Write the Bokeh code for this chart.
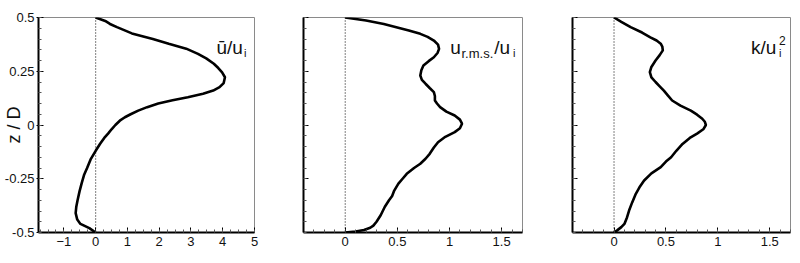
import math
from bokeh.plotting import figure
from bokeh.layouts import row
from bokeh.models import FixedTicker, Span, Label
from bokeh.embed import file_html
from bokeh.resources import INLINE

# ---------------- data ----------------
z_mean = [-0.5, -0.48, -0.46, -0.44, -0.41, -0.38, -0.35, -0.31, -0.27, -0.23, -0.2, -0.16,
          -0.12, -0.087, -0.06, -0.04, -0.02, 0.0, 0.02, 0.036, 0.05, 0.067, 0.083, 0.1,
          0.115, 0.129, 0.145, 0.16, 0.176, 0.195, 0.222, 0.245, 0.265, 0.285, 0.31, 0.331,
          0.355, 0.378, 0.4, 0.426, 0.455, 0.47, 0.484, 0.5]
u_mean = [0.0, -0.2, -0.48, -0.58, -0.63, -0.61, -0.57, -0.51, -0.44, -0.36, -0.27, -0.16,
          0.0, 0.14, 0.27, 0.39, 0.5, 0.62, 0.76, 0.92, 1.1, 1.34, 1.62, 1.97,
          2.42, 2.9, 3.38, 3.7, 3.9, 4.03, 4.07, 3.98, 3.86, 3.72, 3.48, 3.22,
          2.85, 2.3, 1.8, 1.14, 0.67, 0.45, 0.3, 0.0]

z_rms = [-0.5, -0.495, -0.488, -0.478, -0.468, -0.45, -0.42, -0.38, -0.35, -0.33, -0.305,
         -0.273, -0.25, -0.227, -0.2, -0.18, -0.157, -0.134, -0.105, -0.08, -0.055, -0.033,
         -0.015, 0.006, 0.025, 0.044, 0.062, 0.083, 0.1, 0.114, 0.135, 0.153, 0.172, 0.192,
         0.21, 0.23, 0.255, 0.277, 0.297, 0.315, 0.335, 0.354, 0.374, 0.393, 0.41, 0.424,
         0.44, 0.455, 0.47, 0.486, 0.5]
u_rms = [0.0, 0.1, 0.18, 0.24, 0.27, 0.3, 0.34, 0.38, 0.42, 0.45, 0.47,
         0.51, 0.55, 0.59, 0.66, 0.72, 0.77, 0.81, 0.85, 0.89, 0.96, 1.05,
         1.1, 1.12, 1.1, 1.05, 0.97, 0.91, 0.88, 0.86, 0.86, 0.85, 0.81, 0.77,
         0.735, 0.72, 0.73, 0.75, 0.8, 0.85, 0.885, 0.9, 0.89, 0.85, 0.79, 0.72,
         0.61, 0.49, 0.37, 0.2, 0.0]

z_k = [-0.5, -0.49, -0.475, -0.46, -0.43, -0.398, -0.36, -0.32, -0.29, -0.258, -0.225,
       -0.196, -0.17, -0.15, -0.12, -0.088, -0.06, -0.04, -0.02, 0.0, 0.015, 0.029, 0.048,
       0.067, 0.09, 0.114, 0.137, 0.16, 0.18, 0.2, 0.222, 0.246, 0.27, 0.3, 0.325, 0.347,
       0.365, 0.378, 0.393, 0.408, 0.43, 0.455, 0.48, 0.5]
k_val = [0.0, 0.03, 0.07, 0.1, 0.125, 0.145, 0.175, 0.21, 0.245, 0.29, 0.36,
         0.45, 0.5, 0.55, 0.6, 0.66, 0.73, 0.8, 0.86, 0.885, 0.875, 0.85, 0.8,
         0.74, 0.64, 0.56, 0.52, 0.48, 0.44, 0.4, 0.36, 0.345, 0.36, 0.4, 0.44, 0.47,
         0.465, 0.45, 0.41, 0.35, 0.27, 0.16, 0.07, 0.0]

y_ticks = [-0.5, -0.25, 0, 0.25, 0.5]
y_tick_labels = {-0.5: "-0.5", -0.25: "-0.25", 0: "0", 0.25: "0.25", 0.5: "0.5"}
x_ticks_mean = [-1, 0, 1, 2, 3, 4, 5]
x_ticks_small = [0, 0.5, 1, 1.5]
x_tick_labels_small = {0: "0", 0.5: "0.5", 1: "1", 1.5: "1.5"}
y_axis_title = "z / D"

FONT = "Liberation Sans"


def frange(a, b, step):
    n = int(round((b - a) / step))
    return [round(a + i * step, 4) for i in range(n + 1)]


def make_fig(width, left, right, xr, xticks, xminor, show_ylabels):
    p = figure(width=width, height=263, x_range=xr, y_range=(-0.5, 0.5),
               output_backend="svg", toolbar_location=None,
               min_border_left=left, min_border_right=right,
               min_border_top=17, min_border_bottom=31)
    p.xgrid.visible = False
    p.ygrid.visible = False
    p.outline_line_color = "#8a8a8a"
    p.outline_line_width = 1
    p.background_fill_color = "white"
    p.border_fill_color = "white"

    xa = p.xaxis[0]
    xa.ticker = FixedTicker(ticks=xticks, minor_ticks=xminor)
    xa.axis_line_width = 2
    xa.axis_line_color = "black"
    xa.major_tick_in = 5
    xa.major_tick_out = 0
    xa.minor_tick_in = 3
    xa.minor_tick_out = 0
    xa.major_tick_line_color = "black"
    xa.minor_tick_line_color = "#555555"
    xa.major_label_standoff = 4
    xa.major_label_text_font = FONT
    xa.major_label_text_font_size = "13px"
    xa.major_label_text_color = "#111111"

    ya = p.yaxis[0]
    ya.ticker = FixedTicker(ticks=y_ticks, minor_ticks=frange(-0.5, 0.5, 0.05))
    ya.axis_line_width = 2
    ya.axis_line_color = "black"
    ya.major_tick_in = 5
    ya.major_tick_out = 2
    ya.minor_tick_in = 3
    ya.minor_tick_out = 0
    ya.major_tick_line_color = "black"
    ya.minor_tick_line_color = "#555555"
    ya.major_label_standoff = 2
    ya.major_label_text_font = FONT
    ya.major_label_text_font_size = "13px"
    ya.major_label_text_color = "#111111"
    if show_ylabels:
        ya.major_label_overrides = y_tick_labels
    else:
        ya.major_label_overrides = {t: "" for t in y_ticks}
        ya.major_tick_out = 0
    p.add_layout(Span(location=0, dimension="height", line_color="black",
                      line_width=1, line_dash="1 2"))
    return p


def txt(p, x, y, s, size):
    p.add_layout(Label(x=x, y=y, text=s, text_font=FONT, text_font_size=size,
                       text_align="left", text_baseline="alphabetic",
                       text_color="#111111"))


# Panel 1: mean velocity
p1 = make_fig(265, 36, 11, (-1.8, 5.0), x_ticks_mean, frange(-1.75, 5.0, 0.25), True)
ya1 = p1.yaxis[0]
ya1.axis_label = y_axis_title
ya1.axis_label_text_font = FONT
ya1.axis_label_text_font_size = "18px"
ya1.axis_label_text_font_style = "normal"
ya1.axis_label_text_color = "#111111"
ya1.axis_label_standoff = -22
p1.line(u_mean, z_mean, line_color="black", line_width=2.6)
txt(p1, 3.80, 0.36, "ū/u", "19px")
txt(p1, 4.67, 0.333, "i", "11px")

# Panel 2: rms velocity
p2 = make_fig(268, 38, 11, (-0.4, 1.7), x_ticks_small, frange(-0.4, 1.7, 0.1), False)
p2.xaxis[0].major_label_overrides = x_tick_labels_small
p2.line(u_rms, z_rms, line_color="black", line_width=2.6)
txt(p2, 1.007, 0.36, "u", "19px")
txt(p2, 1.115, 0.333, "r.m.s.", "13px")
txt(p2, 1.43, 0.36, "/u", "19px")
txt(p2, 1.61, 0.333, "i", "11px")

# Panel 3: turbulent kinetic energy
p3 = make_fig(267, 39, 10, (-0.4, 1.7), x_ticks_small, frange(-0.4, 1.7, 0.1), False)
p3.xaxis[0].major_label_overrides = x_tick_labels_small
p3.line(k_val, z_k, line_color="black", line_width=2.6)
txt(p3, 1.319, 0.36, "k/u", "19px")
txt(p3, 1.59, 0.393, "2", "12px")
txt(p3, 1.59, 0.333, "i", "11px")

layout = row(p1, p2, p3, spacing=0)
open("out.html", "w").write(file_html(layout, INLINE))
